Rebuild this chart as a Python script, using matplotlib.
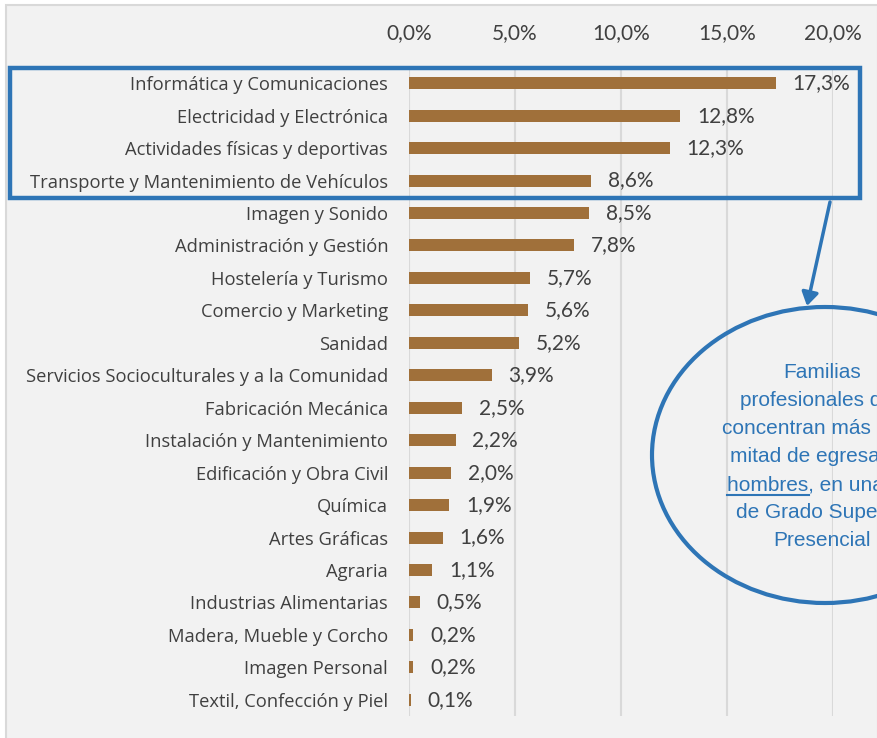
import matplotlib.pyplot as plt
from matplotlib.patches import Rectangle, Ellipse, FancyArrowPatch
from matplotlib.ticker import FuncFormatter

# Familias profesionales y porcentaje de egresados
familias = [
    'Informática y Comunicaciones',
    'Electricidad y Electrónica',
    'Actividades físicas y deportivas',
    'Transporte y Mantenimiento de Vehículos',
    'Imagen y Sonido',
    'Administración y Gestión',
    'Hostelería y Turismo',
    'Comercio y Marketing',
    'Sanidad',
    'Servicios Socioculturales y a la Comunidad',
    'Fabricación Mecánica',
    'Instalación y Mantenimiento',
    'Edificación y Obra Civil',
    'Química',
    'Artes Gráficas',
    'Agraria',
    'Industrias Alimentarias',
    'Madera, Mueble y Corcho',
    'Imagen Personal',
    'Textil, Confección y Piel',
]
porcentajes = [17.3, 12.8, 12.3, 8.6, 8.5, 7.8, 5.7, 5.6, 5.2, 3.9,
               2.5, 2.2, 2.0, 1.9, 1.6, 1.1, 0.5, 0.2, 0.2, 0.1]
ticks = [0, 5, 10, 15, 20]

W, H = 878, 738
fondo = '#F2F2F2'
azul = '#2E75B6'
marron = '#A0703A'
gris = '#404040'


def px(x, y):
    # pixeles -> fraccion de figura
    return x / W, 1 - y / H


fig = plt.figure(figsize=(W / 100, H / 100), dpi=100)
fig.patch.set_facecolor('white')

# marco del grafico
fig.patches.append(Rectangle(px(6, 740), (W - 6) / W, (740 - 5) / H,
                             transform=fig.transFigure, facecolor=fondo,
                             edgecolor='#D9D9D9', linewidth=1.5, zorder=-10))

l, t = px(409, 67)
r, b = px(833, 716)
ax = fig.add_axes([l, b, r - l, t - b])
ax.set_facecolor('none')

y = list(range(len(familias)))
bars = ax.barh(y, porcentajes, height=0.37, color=marron, zorder=3)
ax.set_ylim(len(familias) - 0.5, -0.5)
ax.set_xlim(0, 20)

ax.set_yticks(y)
ax.set_yticklabels(familias, fontsize=13.2, color=gris, family='Open Sans')
ax.set_xticks(ticks)
ax.xaxis.set_major_formatter(FuncFormatter(lambda v, p: f'{v:.1f}%'.replace('.', ',')))
ax.xaxis.tick_top()
for lab in ax.get_xticklabels():
    lab.set_fontsize(15)
    lab.set_color(gris)
    lab.set_family('Lato')
ax.tick_params(axis='both', length=0)
ax.tick_params(axis='y', pad=15)
ax.tick_params(axis='x', pad=17)

ax.grid(axis='x', color='#D9D9D9', linewidth=1.5, zorder=0)
for s in ax.spines.values():
    s.set_visible(False)

ax.bar_label(bars, labels=[f'{v:.1f}%'.replace('.', ',') for v in porcentajes],
             padding=12, fontsize=15, color=gris, family='Lato')

# recuadro de las 4 primeras familias
x0, y0 = px(10, 198)
x1, y1 = px(860, 68)
fig.patches.append(Rectangle((x0, y0), x1 - x0, y1 - y0, transform=fig.transFigure,
                             fill=False, edgecolor=azul, linewidth=3.2, zorder=5))

# elipse con el comentario
cx, cy = px(825, 455)
fig.patches.append(Ellipse((cx, cy), 2 * 173 / W, 296 / H, transform=fig.transFigure,
                           fill=False, edgecolor=azul, linewidth=3, zorder=5))

arrow = FancyArrowPatch(px(830, 202), px(807, 306), transform=fig.transFigure,
                        arrowstyle='-|>,head_length=8,head_width=5', color=azul,
                        linewidth=2.5, shrinkA=0, shrinkB=0, zorder=6)
fig.patches.append(arrow)

lineas = ['Familias', 'profesionales que', 'concentran más de la',
          'mitad de egresados', 'hombres, en una FP', 'de Grado Superior',
          'Presencial']
tx = 822
for i, linea in enumerate(lineas):
    fig.text(*px(tx, 373 + i * 28), linea, ha='center', va='center',
             fontsize=15, color=azul, family='Liberation Sans')

# subrayado de "hombres"
fig.canvas.draw()
rend = fig.canvas.get_renderer()
tmp = fig.text(*px(tx, 373 + 4 * 28), lineas[4], ha='center', va='center',
               fontsize=15, family='Liberation Sans', alpha=0)
tmp2 = fig.text(0, 0, 'hombres', fontsize=15, family='Liberation Sans', alpha=0)
e1 = tmp.get_window_extent(rend)
e2 = tmp2.get_window_extent(rend)
uy = (373 + 4 * 28 + 10)
fig.lines.append(plt.Line2D([e1.x0 / W, (e1.x0 + e2.width) / W],
                            [1 - uy / H, 1 - uy / H], transform=fig.transFigure,
                            color=azul, linewidth=1.5))

fig.savefig('out.png', dpi=100, facecolor=fig.get_facecolor())
